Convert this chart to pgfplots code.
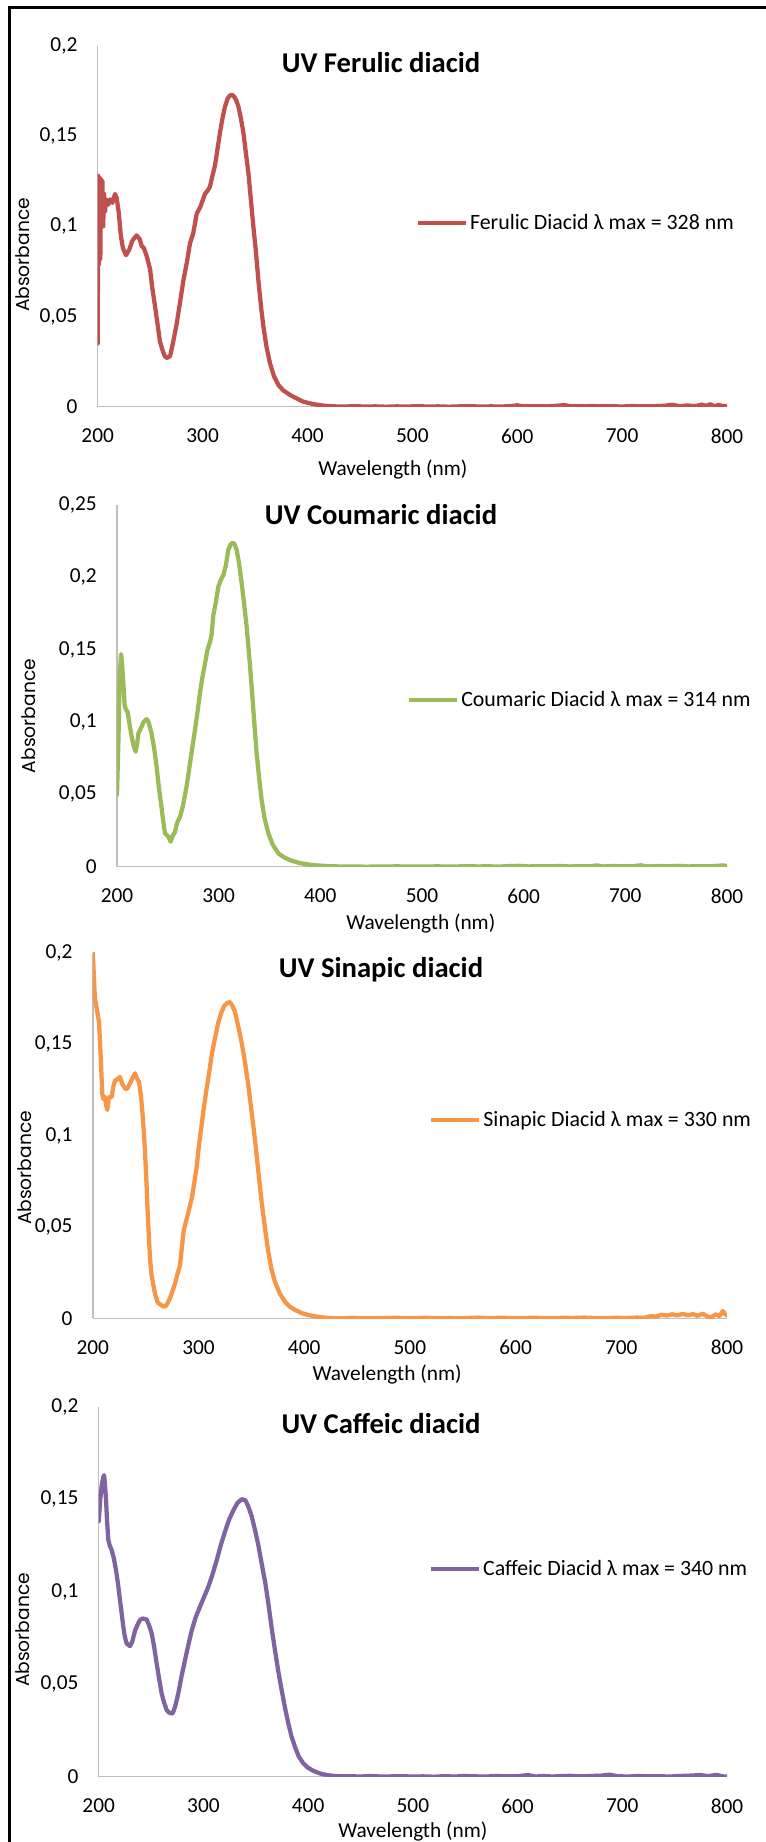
\documentclass[border=0pt]{standalone}
\usepackage{fontspec}
\setmainfont{Carlito}
\newfontfamily\gothic{Poppins}
\usepackage{pgfplots}
\usepackage{pgfplotstable}
\pgfplotsset{compat=1.18}
\definecolor{cFer}{HTML}{C0504D}
\definecolor{cCou}{HTML}{9BBB59}
\definecolor{cSin}{HTML}{F79646}
\definecolor{cCaf}{HTML}{8064A2}
\definecolor{axgray}{HTML}{BFBFBF}

\pgfplotstableread{
x y
200 0.035
200.5 0.128
201.2 0.079
201.8 0.127
202.5 0.082
203.2 0.126
203.8 0.105
204.5 0.125
205.2 0.100
206 0.118
207 0.108
208 0.115
210 0.112
212 0.115
214 0.113
216.5 0.118
218 0.116
220 0.108
222 0.095
224 0.088
227 0.084
230 0.087
233 0.092
237 0.095
240 0.093
242 0.089
244 0.088
247 0.083
250 0.076
252 0.066
254.7 0.0555
257 0.046
259.4 0.036
262 0.031
264 0.028
266 0.027
269 0.028
272 0.036
275.3 0.046
278 0.056
281.7 0.070
285 0.080
288 0.0906
291 0.096
294.4 0.107
298 0.111
302.3 0.118
305 0.120
307 0.122
309 0.127
311.9 0.134
314 0.142
316.6 0.152
319 0.160
321.4 0.1665
324 0.171
326 0.1725
328 0.173
330 0.172
332 0.170
334.1 0.1665
336.5 0.160
338.9 0.152
341 0.142
343.7 0.1295
346 0.115
348.4 0.100
351 0.085
353.2 0.070
356 0.054
358 0.0444
361 0.033
364.3 0.024
368 0.017
372.3 0.012
377 0.009
383.4 0.0065
390 0.0045
396 0.0028
405 0.0015
415 0.0006
425 0.0002
435 0.0001
445 0.0003
455 0.0001
465 0.0002
475 0.0000
485 0.0002
495 0.0001
505 0.0003
515 0.0001
525 0.0002
535 0.0000
545 0.0002
555 0.0003
565 0.0001
575 0.0002
585 0.0001
595 0.0004
600 0.0008
605 0.0002
615 0.0003
625 0.0002
635 0.0004
645 0.0009
650 0.0003
660 0.0002
670 0.0004
680 0.0002
690 0.0003
700 0.0001
710 0.0004
720 0.0002
730 0.0003
740 0.0005
748 0.0011
755 0.0002
762 0.0007
770 0.0003
776 0.0012
780 0.0004
784 0.0014
788 0.0002
792 0.0010
796 0.0003
800 0.0004
}\ferulic

\pgfplotstableread{
x y
200 0.050
201.5 0.090
202.5 0.130
204 0.147
205 0.140
206.2 0.127
207.5 0.112
208.5 0.109
210.5 0.107
212 0.100
214.4 0.090
216.5 0.083
218.4 0.0795
220 0.086
221 0.092
224.3 0.097
226 0.100
229.2 0.102
231 0.100
234 0.092
236.5 0.082
239 0.069
241 0.056
243.3 0.0438
245 0.034
247.2 0.023
249 0.022
250.5 0.0207
252.8 0.0173
254.5 0.021
257 0.024
259 0.030
262 0.0346
264.5 0.041
266.9 0.0495
269 0.058
271.8 0.0714
274 0.082
276.7 0.0945
279 0.106
281.6 0.120
284 0.131
286.6 0.1405
289 0.150
291.5 0.1555
293 0.160
294.8 0.174
297 0.182
299.7 0.1935
302 0.198
304.6 0.2016
307 0.208
309.5 0.219
311.5 0.2225
313.8 0.224
315.5 0.223
317.7 0.219
320 0.210
322.6 0.196
325 0.182
327.5 0.166
330 0.146
332.5 0.124
335 0.100
337.4 0.078
340 0.060
342.3 0.046
345 0.034
348.9 0.023
353 0.0155
358.7 0.0092
365 0.0062
371.8 0.0041
380 0.0025
391.5 0.0012
405 0.0005
418 0.0002
425 0.0001
435 0.0002
445 0.0000
455 0.0002
465 0.0001
475 0.0003
485 0.0001
495 0.0002
505 0.0001
515 0.0003
525 0.0001
535 0.0002
545 0.0004
555 0.0002
565 0.0003
575 0.0001
585 0.0004
595 0.0006
605 0.0002
615 0.0004
625 0.0003
635 0.0005
645 0.0002
655 0.0004
665 0.0003
672 0.0009
678 0.0002
688 0.0005
698 0.0003
708 0.0004
715 0.0010
722 0.0002
732 0.0005
742 0.0003
752 0.0006
762 0.0002
772 0.0004
782 0.0003
790 0.0006
796 0.0009
800 0.0005
}\coumaric

\pgfplotstableread{
x y
200 0.200
200.8 0.190
202 0.175
203.7 0.1695
205 0.165
205.9 0.162
207.4 0.144
209 0.123
210 0.120
211.5 0.121
212.8 0.116
213.7 0.114
215.3 0.121
217.8 0.121
219.5 0.127
221 0.130
223.5 0.131
225.7 0.132
228 0.128
231 0.1254
233 0.126
235.2 0.1285
238 0.132
240 0.134
242 0.131
243.7 0.1294
245.5 0.122
246.9 0.113
248.3 0.102
249.4 0.091
250.7 0.075
251.9 0.0583
253 0.045
254.4 0.031
255.5 0.024
257.3 0.0182
259 0.013
261.4 0.0087
264 0.0075
266 0.0068
268.3 0.0064
270.5 0.008
273 0.011
275.5 0.015
277.8 0.019
280 0.024
282.5 0.029
284.5 0.040
286 0.048
287.3 0.051
290 0.057
293.6 0.0656
296 0.074
298.3 0.083
300.5 0.095
303 0.106
305 0.115
307.7 0.1258
310 0.134
312.5 0.144
315.5 0.153
318.8 0.162
321.5 0.167
324.4 0.171
327 0.1725
329.8 0.173
332 0.171
334.5 0.1677
337.5 0.160
340.8 0.151
344 0.140
347.1 0.1276
350 0.114
353.4 0.098
356.5 0.081
359.7 0.0638
363 0.049
366 0.0365
369 0.027
372.3 0.020
377 0.0135
381.8 0.0091
386 0.0065
391.3 0.0046
397 0.0030
403.9 0.0018
412 0.0009
419.7 0.0004
427 0.0001
435 0.0000
445 0.0003
455 0.0001
465 0.0002
475 0.0001
485 0.0003
495 0.0002
505 0.0001
515 0.0003
525 0.0001
535 0.0002
545 0.0000
555 0.0002
565 0.0004
575 0.0001
585 0.0003
595 0.0002
605 0.0001
615 0.0003
625 0.0002
635 0.0001
645 0.0003
655 0.0002
665 0.0004
675 0.0002
685 0.0001
695 0.0003
705 0.0002
715 0.0004
722 0.0003
728 0.0012
733 0.0009
738 0.0020
743 0.0015
748 0.0022
753 0.0016
758 0.0024
763 0.0017
768 0.0023
772 0.0014
777 0.0025
781 0.0012
785 0.0004
789 0.0022
793 0.0012
796 0.0040
798 0.0025
800 0.0015
}\sinapic

\pgfplotstableread{
x y
200 0.138
201.5 0.150
202.8 0.157
204 0.161
205.1 0.163
206 0.158
207 0.1496
208 0.138
209.2 0.128
210.5 0.125
212.4 0.1225
214.5 0.118
216.5 0.1117
218.5 0.104
220.3 0.0955
222 0.088
223.5 0.081
225 0.0755
226.7 0.072
229.9 0.0706
232 0.073
234.7 0.079
237 0.082
239.4 0.0847
242 0.0855
245.8 0.085
248 0.082
250.6 0.0775
253 0.070
255.4 0.061
258 0.052
260.1 0.045
262.5 0.040
264.9 0.036
267.5 0.0345
270.6 0.0342
273 0.038
276 0.045
279 0.054
282.4 0.063
285.5 0.071
288.8 0.079
292.5 0.086
296.8 0.092
300.5 0.097
304.7 0.1027
308.5 0.109
312.7 0.117
316.5 0.125
320.6 0.1325
324.5 0.139
328.6 0.144
332.5 0.148
336.6 0.150
340 0.1495
342.9 0.146
346 0.141
349.3 0.1333
352.5 0.125
355.6 0.1153
359 0.105
362 0.0937
365 0.081
368.3 0.0685
371.5 0.057
374.7 0.0469
378 0.037
381.1 0.0288
384 0.022
387.4 0.0162
391 0.011
395.4 0.0072
400 0.0048
404.9 0.0032
411 0.0018
417.7 0.0009
425 0.0004
433.6 0.0002
440 0.0003
450 0.0001
460 0.0004
470 0.0001
480 0.0002
490 0.0003
500 0.0001
510 0.0002
520 0.0000
530 0.0003
540 0.0001
550 0.0004
560 0.0002
570 0.0001
580 0.0004
590 0.0002
600 0.0003
610 0.0009
617 0.0001
625 0.0004
633 0.0001
640 0.0003
650 0.0005
660 0.0002
670 0.0004
680 0.0006
688 0.0011
695 0.0003
705 0.0001
715 0.0004
725 0.0002
735 0.0003
745 0.0001
755 0.0004
765 0.0006
775 0.0009
782 0.0003
790 0.0010
796 0.0002
800 0.0001
}\caffeic

\newcommand{\tf}{\fontsize{16}{19}\selectfont}
\newcommand{\lf}{\fontsize{16.4}{19}\selectfont}
\pgfplotsset{
  uvstyle/.style={
    scale only axis,
    axis x line=bottom, axis y line=left,
    axis line style={axgray, line width=1.1pt, -},
    xmin=200, xmax=800, ymin=0,
    xtick={200,300,400,500,600,700,800},
    xticklabels={200,300,400,500,600,700,800},
    major tick length=0pt,
    tick style={draw=none},
    tick label style={font=\tf, text=black},
    xticklabel style={anchor=center, yshift=-22pt},
    yticklabel style={anchor=east, inner sep=0pt, xshift=-15pt},
    xlabel={Wavelength (nm)},
    xlabel style={font=\tf, anchor=center},
    ylabel={Absorbance},
    ylabel style={font=\gothic\fontsize{14}{16}\selectfont, anchor=center},
    title style={font=\fontsize{21.5}{25}\selectfont\bfseries, anchor=center},
    legend style={draw=none, fill=none, anchor=west, font=\lf, inner sep=0pt,
      nodes={inner sep=1.5pt}},
    legend cell align=left,
    legend image code/.code={\draw[#1, line width=3.2pt, line cap=butt] (0pt,0pt) -- (36pt,0pt);},
    every axis plot/.append style={line width=3.2pt, line join=round, line cap=round},
  }
}

\begin{document}
\begin{tikzpicture}
\useasboundingbox (0,0) rectangle (574.5pt,-1381.5pt);
\draw[line width=2pt, black] (7.1pt,-1381.5pt) -- (7.1pt,-5.5pt) -- (574.5pt,-5.5pt);

% Panel 1: Ferulic
\begin{axis}[uvstyle,
  at={(73.28pt,-305.03pt)}, anchor=south west,
  width=471.98pt, height=270.53pt,
  ymax=0.2, ytick={0,0.05,0.1,0.15,0.2},
  yticklabels={0,{0,05},{0,1},{0,15},{0,2}},
  title={UV Ferulic diacid},
  title style={at={(axis description cs:0.4502,0.9315)}},
  xlabel style={at={(axis description cs:0.469,-0.1755)}},
  ylabel style={at={(axis description cs:-0.1187,0.4206)}},
  legend style={at={(axis description cs:0.505,0.5085)}},
]
\addplot[cFer] table[x=x,y=y] {\ferulic};
\addlegendentry{Ferulic Diacid λ max = 328 nm}
\end{axis}

% Panel 2: Coumaric
\begin{axis}[uvstyle,
  at={(87.75pt,-650.03pt)}, anchor=south west,
  width=457.5pt, height=271.28pt,
  ymax=0.25, ytick={0,0.05,0.1,0.15,0.2,0.25},
  yticklabels={0,{0,05},{0,1},{0,15},{0,2},{0,25}},
  title={UV Coumaric diacid},
  title style={at={(axis description cs:0.4328,0.9502)}},
  xlabel style={at={(axis description cs:0.498,-0.1557)}},
  ylabel style={at={(axis description cs:-0.1443,0.4166)}},
  legend style={at={(axis description cs:0.475,0.461)}},
]
\addplot[cCou] table[x=x,y=y] {\coumaric};
\addlegendentry{Coumaric Diacid λ max = 314 nm}
\end{axis}

% Panel 3: Sinapic
\begin{axis}[uvstyle,
  at={(69.6pt,-988.73pt)}, anchor=south west,
  width=475.65pt, height=274.2pt,
  ymax=0.2, ytick={0,0.05,0.1,0.15,0.2},
  yticklabels={0,{0,05},{0,1},{0,15},{0,2}},
  title={UV Sinapic diacid},
  title style={at={(axis description cs:0.4544,0.9308)}},
  xlabel style={at={(axis description cs:0.464,-0.155)}},
  ylabel style={at={(axis description cs:-0.1069,0.4111)}},
  legend style={at={(axis description cs:0.530,0.5424)}},
]
\addplot[cSin] table[x=x,y=y] {\sinapic};
\addlegendentry{Sinapic Diacid λ max = 330 nm}
\end{axis}

% Panel 4: Caffeic
\begin{axis}[uvstyle,
  at={(74.03pt,-1332.53pt)}, anchor=south west,
  width=471.23pt, height=277.5pt,
  ymax=0.2, ytick={0,0.05,0.1,0.15,0.2},
  yticklabels={0,{0,05},{0,1},{0,15},{0,2}},
  title={UV Caffeic diacid},
  title style={at={(axis description cs:0.4493,0.9343)}},
  xlabel style={at={(axis description cs:0.500,-0.1486)}},
  ylabel style={at={(axis description cs:-0.1205,0.3965)}},
  legend style={at={(axis description cs:0.525,0.561)}},
]
\addplot[cCaf] table[x=x,y=y] {\caffeic};
\addlegendentry{Caffeic Diacid λ max = 340 nm}
\end{axis}
\end{tikzpicture}
\end{document}
